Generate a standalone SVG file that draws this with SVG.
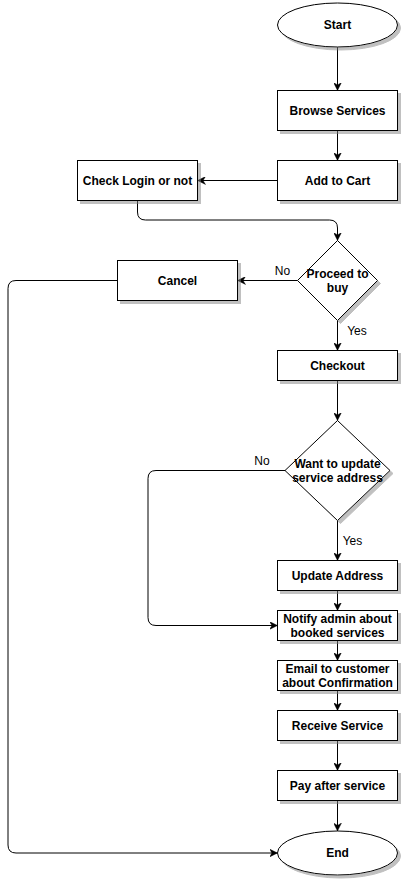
<svg xmlns="http://www.w3.org/2000/svg" width="401" height="881" viewBox="0 0 401 881">
<style>
.n{fill:#fff;stroke:#000;stroke-width:1;filter:url(#sh)}
.t{font-family:"Liberation Sans",Arial,sans-serif;font-size:12px;font-weight:bold;fill:#000;text-anchor:middle}
.l{font-family:"Liberation Sans",Arial,sans-serif;font-size:12px;fill:#000;text-anchor:middle}
.c{fill:none;stroke:#000;stroke-width:1;marker-end:url(#ar)}
</style>
<defs>
<filter id="sh" x="-10%" y="-10%" width="130%" height="130%">
<feDropShadow dx="3" dy="3" stdDeviation="0" flood-color="#808080" flood-opacity="0.5"/>
</filter>
<marker id="ar" viewBox="0 0 10 10" refX="10" refY="5" markerWidth="8" markerHeight="8" markerUnits="userSpaceOnUse" orient="auto">
<path d="M0,0 L10,5 L0,10 L3,5 z" fill="#000" stroke="#000" stroke-width="0.5"/>
</marker>
</defs>
<rect width="401" height="881" fill="#fff"/>
<g id="connectors">
<path class="c" d="M337.5,47 V90.5"/>
<path class="c" d="M337.5,130.5 V160.5"/>
<path class="c" d="M277.5,180.5 H197.5"/>
<path class="c" d="M137.5,200.5 V212 Q137.5,220 145.5,220 H329.5 Q337.5,220 337.5,228 V240.5"/>
<path class="c" d="M297.5,280.5 H237.5"/>
<path class="c" d="M337.5,320.5 V350.5"/>
<path class="c" d="M117.5,280.5 H16 Q8,280.5 8,288.5 V845 Q8,853 16,853 H277.5"/>
<path class="c" d="M337.5,380.5 V420.5"/>
<path class="c" d="M337.5,520.5 V560.5"/>
<path class="c" d="M285,470.5 H156 Q148,470.5 148,478.5 V617.5 Q148,625.5 156,625.5 H277.5"/>
<path class="c" d="M337.5,590.5 V610.5"/>
<path class="c" d="M337.5,640.5 V660.5"/>
<path class="c" d="M337.5,690.5 V710.5"/>
<path class="c" d="M337.5,740.5 V770.5"/>
<path class="c" d="M337.5,800.5 V831"/>
<text class="l" x="282.5" y="274.5">No</text>
<text class="l" x="357" y="335">Yes</text>
<text class="l" x="262" y="465">No</text>
<text class="l" x="352.5" y="544.5">Yes</text>
</g>
<g id="start">
<ellipse class="n" cx="337.5" cy="25" rx="60" ry="22"/>
<text class="t" x="337.5" y="29">Start</text>
</g>
<g id="browse">
<rect class="n" x="277.5" y="90.5" width="120" height="40"/>
<text class="t" x="337.5" y="114.5">Browse Services</text>
</g>
<g id="addcart">
<rect class="n" x="277.5" y="160.5" width="120" height="40"/>
<text class="t" x="337.5" y="184.5">Add to Cart</text>
</g>
<g id="checklogin">
<rect class="n" x="77.5" y="160.5" width="120" height="40"/>
<text class="t" x="137.5" y="184.5">Check Login or not</text>
</g>
<g id="proceed">
<polygon class="n" points="337.5,240.5 377.5,280.5 337.5,320.5 297.5,280.5"/>
<text class="t" x="337.5" y="278">Proceed to</text>
<text class="t" x="337.5" y="292">buy</text>
</g>
<g id="cancel">
<rect class="n" x="117.5" y="260.5" width="120" height="40"/>
<text class="t" x="177.5" y="284.5">Cancel</text>
</g>
<g id="checkout">
<rect class="n" x="277.5" y="350.5" width="120" height="30"/>
<text class="t" x="337.5" y="369.5">Checkout</text>
</g>
<g id="updatequestion">
<polygon class="n" points="337.5,420.5 390,470.5 337.5,520.5 285,470.5"/>
<text class="t" x="337.5" y="467.5">Want to update</text>
<text class="t" x="337.5" y="481.5">service address</text>
</g>
<g id="updateaddress">
<rect class="n" x="277.5" y="560.5" width="120" height="30"/>
<text class="t" x="337.5" y="579.5">Update Address</text>
</g>
<g id="notify">
<rect class="n" x="277.5" y="610.5" width="120" height="30"/>
<text class="t" x="337.5" y="622.5">Notify admin about</text>
<text class="t" x="337.5" y="636.5">booked services</text>
</g>
<g id="email">
<rect class="n" x="277.5" y="660.5" width="120" height="30"/>
<text class="t" x="337.5" y="672.5">Email to customer</text>
<text class="t" x="337.5" y="686.5">about Confirmation</text>
</g>
<g id="receive">
<rect class="n" x="277.5" y="710.5" width="120" height="30"/>
<text class="t" x="337.5" y="729.5">Receive Service</text>
</g>
<g id="pay">
<rect class="n" x="277.5" y="770.5" width="120" height="30"/>
<text class="t" x="337.5" y="789.5">Pay after service</text>
</g>
<g id="end">
<ellipse class="n" cx="337.5" cy="853" rx="60" ry="22"/>
<text class="t" x="337.5" y="857">End</text>
</g>
</svg>
